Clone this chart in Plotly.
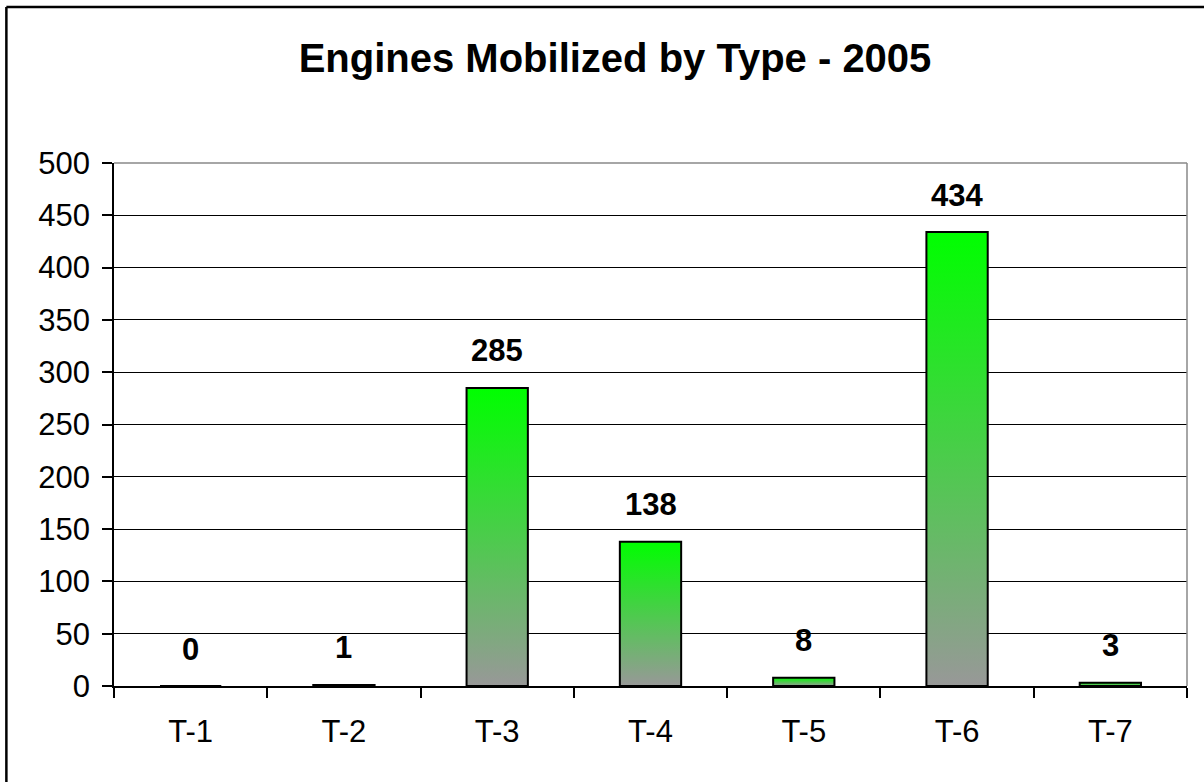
import plotly.graph_objects as go

# engines mobilized by type - 2005
categories = ["T-1", "T-2", "T-3", "T-4", "T-5", "T-6", "T-7"]
engines = [0, 1, 285, 138, 8, 434, 3]
y_ticks = [0, 50, 100, 150, 200, 250, 300, 350, 400, 450, 500]

FONT = "Arial, Liberation Sans, sans-serif"
BAR_HALF = 0.2  # half bar width in category units

fig = go.Figure()

positions = list(range(len(categories)))

# bars as filled rectangles so the vertical gradient can be used
for pos, cat, val in zip(positions, categories, engines):
    fig.add_trace(go.Scatter(
        x=[pos - BAR_HALF, pos - BAR_HALF, pos + BAR_HALF, pos + BAR_HALF, pos - BAR_HALF],
        y=[0, val, val, 0, 0],
        mode="lines",
        fill="toself",
        fillgradient=dict(type="vertical", colorscale=[[0, "#989898"], [1, "#00ff00"]]),
        line=dict(color="black", width=2),
        name=cat,
        hoverinfo="skip",
        showlegend=False,
    ))

# value labels
for pos, val in zip(positions, engines):
    fig.add_annotation(
        x=pos, y=val, text="<b>%d</b>" % val, showarrow=False,
        yanchor="middle", yshift=37,
        font=dict(family=FONT, size=31, color="black"),
    )

fig.update_layout(
    width=1204,
    height=782,
    paper_bgcolor="white",
    plot_bgcolor="white",
    margin=dict(l=114, r=17, t=163, b=96),
    title=dict(
        text="<b>Engines Mobilized by Type - 2005</b>",
        x=615 / 1204, xanchor="center", xref="container",
        y=1 - 58 / 782, yanchor="middle", yref="container",
        font=dict(family=FONT, size=40, color="black"),
    ),
    font=dict(family=FONT, color="black"),
)

fig.update_xaxes(
    range=[-0.5, len(categories) - 0.5],
    tickmode="array",
    tickvals=positions,
    ticktext=categories,
    ticks="",
    ticklabelstandoff=17,
    tickfont=dict(family=FONT, size=31, color="black"),
    showgrid=False,
    zeroline=False,
    showline=True,
    linecolor="black",
    linewidth=1.5,
    minor=dict(
        tickmode="array",
        tickvals=[p + 0.5 for p in [-1] + positions],
        ticks="outside",
        ticklen=10,
        tickcolor="black",
        tickwidth=1.5,
        showgrid=False,
    ),
)

fig.update_yaxes(
    range=[0, 500],
    tickmode="array",
    tickvals=y_ticks,
    ticks="outside",
    ticklen=10,
    tickcolor="black",
    tickwidth=1.5,
    ticklabelstandoff=6,
    tickfont=dict(family=FONT, size=31, color="black"),
    showgrid=True,
    gridcolor="black",
    gridwidth=1,
    zeroline=False,
    showline=True,
    linecolor="black",
    linewidth=1.5,
)

# gray frame on the top and right of the plot area
fig.add_shape(type="line", xref="paper", yref="paper", x0=0, x1=1, y0=1, y1=1,
              line=dict(color="#888888", width=1.5))
fig.add_shape(type="line", xref="paper", yref="paper", x0=1, x1=1, y0=0, y1=1,
              line=dict(color="#888888", width=1.5))

# outer chart border (left and top visible)
fig.add_shape(type="line", xref="paper", yref="paper", x0=-0.1003, x1=-0.1003, y0=-0.3, y1=1.2983,
              line=dict(color="black", width=2.5))
fig.add_shape(type="line", xref="paper", yref="paper", x0=-0.1003, x1=1.1, y0=1.2983, y1=1.2983,
              line=dict(color="black", width=2.5))

# drop the default page margin so the figure sits at the window corner
fig.write_html("out.html", config={"displayModeBar": False},
               post_script="document.body.style.margin='0';")
